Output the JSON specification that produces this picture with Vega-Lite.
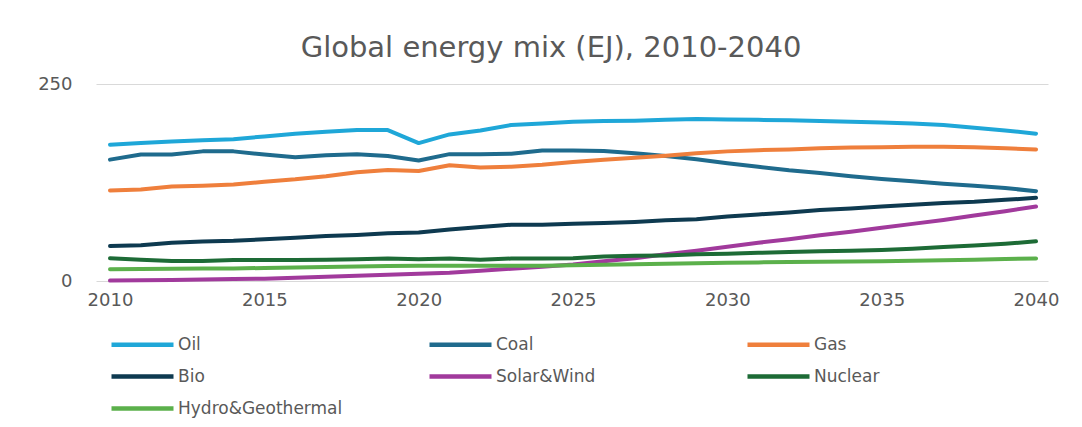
{
  "$schema": "https://vega.github.io/schema/vega-lite/v6.json",
  "width": 952,
  "height": 197,
  "autosize": {"type": "none"},
  "padding": {"left": 96, "top": 84, "right": 34, "bottom": 146},
  "background": "white",
  "title": {
    "text": "Global energy mix (EJ), 2010-2040",
    "font": "DejaVu Sans",
    "fontSize": 29,
    "fontWeight": "normal",
    "color": "#595959",
    "anchor": "middle",
    "frame": "group",
    "baseline": "alphabetic",
    "dx": -21,
    "offset": -11
  },
  "config": {
    "view": {"stroke": null},
    "font": "DejaVu Sans"
  },
  "data": {
    "values": [
      {"year": 2010, "Oil": 173, "Coal": 154, "Gas": 115, "Bio": 44.5, "Solar&Wind": 0.5, "Nuclear": 29, "Hydro&Geothermal": 15},
      {"year": 2011, "Oil": 175, "Coal": 160.5, "Gas": 116, "Bio": 45.5, "Solar&Wind": 1, "Nuclear": 27, "Hydro&Geothermal": 15.3},
      {"year": 2012, "Oil": 177, "Coal": 160.5, "Gas": 120, "Bio": 48.5, "Solar&Wind": 1.3, "Nuclear": 25.5, "Hydro&Geothermal": 15.6},
      {"year": 2013, "Oil": 178.5, "Coal": 164.5, "Gas": 121, "Bio": 50, "Solar&Wind": 2, "Nuclear": 25.5, "Hydro&Geothermal": 15.8},
      {"year": 2014, "Oil": 180, "Coal": 164.5, "Gas": 122.5, "Bio": 51, "Solar&Wind": 2.5, "Nuclear": 26.5, "Hydro&Geothermal": 16},
      {"year": 2015, "Oil": 183.5, "Coal": 160.5, "Gas": 126, "Bio": 53, "Solar&Wind": 3, "Nuclear": 26.5, "Hydro&Geothermal": 16.5},
      {"year": 2016, "Oil": 187, "Coal": 157, "Gas": 129, "Bio": 55, "Solar&Wind": 4, "Nuclear": 26.5, "Hydro&Geothermal": 17.2},
      {"year": 2017, "Oil": 189.5, "Coal": 159.5, "Gas": 133, "Bio": 57, "Solar&Wind": 5.5, "Nuclear": 27, "Hydro&Geothermal": 17.8},
      {"year": 2018, "Oil": 191.5, "Coal": 161, "Gas": 138, "Bio": 58.5, "Solar&Wind": 6.8, "Nuclear": 27.5, "Hydro&Geothermal": 18.5},
      {"year": 2019, "Oil": 191.5, "Coal": 158.5, "Gas": 141, "Bio": 60.5, "Solar&Wind": 8, "Nuclear": 28.5, "Hydro&Geothermal": 19},
      {"year": 2020, "Oil": 175, "Coal": 153, "Gas": 139.5, "Bio": 61.5, "Solar&Wind": 9.3, "Nuclear": 27.5, "Hydro&Geothermal": 19.4},
      {"year": 2021, "Oil": 186, "Coal": 161, "Gas": 147, "Bio": 65.5, "Solar&Wind": 10.6, "Nuclear": 28.5, "Hydro&Geothermal": 19.5},
      {"year": 2022, "Oil": 191, "Coal": 161, "Gas": 144, "Bio": 68.5, "Solar&Wind": 13, "Nuclear": 27, "Hydro&Geothermal": 19.4},
      {"year": 2023, "Oil": 198, "Coal": 161.5, "Gas": 145, "Bio": 71.5, "Solar&Wind": 15.5, "Nuclear": 28.5, "Hydro&Geothermal": 19.2},
      {"year": 2024, "Oil": 200, "Coal": 165.5, "Gas": 147.5, "Bio": 71.5, "Solar&Wind": 18, "Nuclear": 28.5, "Hydro&Geothermal": 19.5},
      {"year": 2025, "Oil": 202, "Coal": 165.5, "Gas": 151, "Bio": 72.5, "Solar&Wind": 21, "Nuclear": 29, "Hydro&Geothermal": 20},
      {"year": 2026, "Oil": 203, "Coal": 165, "Gas": 154, "Bio": 73.5, "Solar&Wind": 25, "Nuclear": 31, "Hydro&Geothermal": 20.7},
      {"year": 2027, "Oil": 203.5, "Coal": 162, "Gas": 156.5, "Bio": 75, "Solar&Wind": 29, "Nuclear": 32, "Hydro&Geothermal": 21.3},
      {"year": 2028, "Oil": 204.5, "Coal": 158.5, "Gas": 159, "Bio": 77, "Solar&Wind": 34, "Nuclear": 32.5, "Hydro&Geothermal": 22},
      {"year": 2029, "Oil": 205.5, "Coal": 154.5, "Gas": 162, "Bio": 78.5, "Solar&Wind": 38.5, "Nuclear": 33.8, "Hydro&Geothermal": 22.6},
      {"year": 2030, "Oil": 205, "Coal": 149.5, "Gas": 164.5, "Bio": 82, "Solar&Wind": 43.5, "Nuclear": 34.6, "Hydro&Geothermal": 23.2},
      {"year": 2031, "Oil": 204.5, "Coal": 145, "Gas": 166, "Bio": 84.5, "Solar&Wind": 48.5, "Nuclear": 35.8, "Hydro&Geothermal": 23.6},
      {"year": 2032, "Oil": 204, "Coal": 140.5, "Gas": 167, "Bio": 87, "Solar&Wind": 53, "Nuclear": 36.7, "Hydro&Geothermal": 24},
      {"year": 2033, "Oil": 203, "Coal": 137, "Gas": 168.5, "Bio": 90, "Solar&Wind": 58, "Nuclear": 37.6, "Hydro&Geothermal": 24.3},
      {"year": 2034, "Oil": 202, "Coal": 133, "Gas": 169.3, "Bio": 92, "Solar&Wind": 62.5, "Nuclear": 38.4, "Hydro&Geothermal": 24.6},
      {"year": 2035, "Oil": 201, "Coal": 129.5, "Gas": 169.8, "Bio": 94.5, "Solar&Wind": 67.5, "Nuclear": 39.3, "Hydro&Geothermal": 25.2},
      {"year": 2036, "Oil": 200, "Coal": 126.5, "Gas": 170.5, "Bio": 96.7, "Solar&Wind": 72.5, "Nuclear": 41, "Hydro&Geothermal": 25.8},
      {"year": 2037, "Oil": 198, "Coal": 123.5, "Gas": 170.5, "Bio": 99, "Solar&Wind": 77.5, "Nuclear": 43, "Hydro&Geothermal": 26.4},
      {"year": 2038, "Oil": 194.5, "Coal": 121, "Gas": 169.8, "Bio": 100.5, "Solar&Wind": 83, "Nuclear": 45, "Hydro&Geothermal": 27},
      {"year": 2039, "Oil": 191, "Coal": 118, "Gas": 168.5, "Bio": 103, "Solar&Wind": 88.5, "Nuclear": 47.3, "Hydro&Geothermal": 27.8},
      {"year": 2040, "Oil": 187, "Coal": 114, "Gas": 167, "Bio": 105.5, "Solar&Wind": 94.5, "Nuclear": 50.3, "Hydro&Geothermal": 28.7}
    ]
  },
  "transform": [
    {"fold": ["Oil", "Coal", "Gas", "Bio", "Solar&Wind", "Nuclear", "Hydro&Geothermal"], "as": ["source", "value"]}
  ],
  "mark": {"type": "line", "strokeWidth": 4, "strokeCap": "round", "strokeJoin": "round"},
  "encoding": {
    "x": {
      "field": "year",
      "type": "quantitative",
      "scale": {"domain": [2009.546, 2040.388], "nice": false, "zero": false},
      "axis": {
        "title": null,
        "values": [2010, 2015, 2020, 2025, 2030, 2035, 2040],
        "format": "d",
        "grid": false,
        "domain": false,
        "ticks": false,
        "tickSize": 0,
        "labelPadding": 10,
        "labelFont": "DejaVu Sans",
        "labelFontSize": 18,
        "labelColor": "#595959",
        "labelFlush": false,
        "labelOverlap": false
      }
    },
    "y": {
      "field": "value",
      "type": "quantitative",
      "scale": {"domain": [0, 250], "nice": false},
      "axis": {
        "title": null,
        "values": [0, 250],
        "grid": true,
        "gridColor": "#d9d9d9",
        "gridWidth": 1,
        "domain": false,
        "ticks": false,
        "tickSize": 0,
        "labelPadding": 24,
        "labelFont": "DejaVu Sans",
        "labelFontSize": 18,
        "labelColor": "#595959"
      }
    },
    "color": {
      "field": "source",
      "type": "nominal",
      "sort": ["Oil", "Coal", "Gas", "Bio", "Solar&Wind", "Nuclear", "Hydro&Geothermal"],
      "scale": {
        "domain": ["Oil", "Coal", "Gas", "Bio", "Solar&Wind", "Nuclear", "Hydro&Geothermal"],
        "range": ["#1fa7d8", "#1f6b8d", "#ef7f3c", "#0e3a50", "#a13a9c", "#1d6b36", "#5bb04b"]
      },
      "legend": {
        "title": null,
        "orient": "none",
        "direction": "horizontal",
        "legendX": 13,
        "legendY": 248,
        "columns": 3,
        "gridAlign": "all",
        "columnPadding": 77,
        "rowPadding": 10,
        "padding": 0,
        "symbolType": "M-1,0H5.2",
        "symbolSize": 400,
        "symbolStrokeWidth": 4.5,
        "symbolFillColor": "transparent",
        "labelOffset": 44,
        "labelFont": "DejaVu Sans",
        "labelFontSize": 17,
        "labelColor": "#595959",
        "labelLimit": 400
      }
    }
  }
}
